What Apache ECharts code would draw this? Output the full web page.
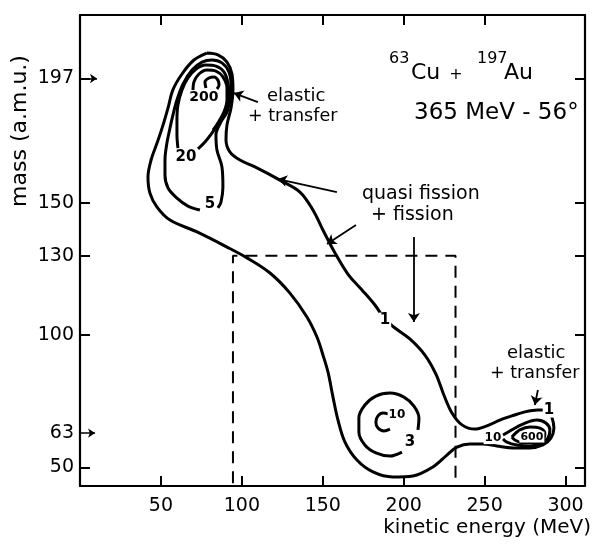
<!DOCTYPE html>
<html><head><meta charset="utf-8">
<script src="https://cdn.jsdelivr.net/npm/echarts@6/dist/echarts.min.js"></script>
<style>html,body{margin:0;padding:0;background:#fff}#c{width:594px;height:545px}</style>
</head><body><div id="c"></div>
<script>
// ---- axis ticks / labels ----
const xTickValues = [50, 100, 150, 200, 250, 300];
const xTopTickValues = [50, 100, 150, 200, 250];
const yLabelValues = [50, 63, 100, 130, 150, 197];
const yTickValues = [50, 100, 130, 150, 197];
const yArrowMarks = [[197, 10.5], [63, 9.3]]; // [mass, arrow length in MeV]

// ---- contour lines (kinetic energy MeV, mass amu) ----
const contour1 = [[78.4,206.6],[85.2,205.9],[90.8,203.2],[93.9,198.7],[94.5,192.7],[93.3,185.9],[90.8,179.4],[90.2,173.8],[92.7,169.2],[98.8,166.2],[109.3,163.2],[123.5,158.6],[135.9,154.1],[143.9,147.3],[150.7,139.0],[157.5,131.1],[165.5,123.1],[174.2,117.1],[182.2,111.4],[188.4,106.1],[194.6,102.7],[203.8,98.6],[213.1,92.5],[219.9,85.3],[224.8,77.4],[229.8,70.6],[236.0,66.1],[244.0,64.5],[251.4,65.7],[259.4,67.9],[266.8,69.5],[274.9,71.0],[282.9,71.7],[289.1,71.7],[291.5,69.1],[292.8,64.9],[290.9,61.1],[286.0,58.5],[278.0,57.4],[267.5,57.4],[257.6,58.1],[248.9,58.9],[240.9,58.9],[232.9,57.7],[226.7,54.7],[218.0,50.2],[205.7,46.8],[193.3,46.4],[181.0,48.3],[171.1,52.8],[163.7,59.6],[159.4,67.9],[156.3,76.6],[153.2,86.1],[150.1,92.5],[146.4,99.3],[140.2,106.9],[129.7,115.9],[117.4,123.5],[103.2,129.2],[90.8,133.3],[72.3,139.0],[55.6,143.5],[47.6,148.4],[43.2,153.7],[42.0,159.8],[43.9,166.2],[47.6,172.6],[51.3,179.4],[54.4,185.9],[57.4,192.7],[63.0,198.7],[70.4,204.0],[78.4,206.6]];
const contour5 = [[74.1,147.3],[66.7,148.8],[59.9,151.8],[54.4,155.6],[52.5,160.5],[52.5,166.2],[53.7,172.6],[55.6,178.3],[57.4,183.2],[59.9,188.9],[63.6,194.9],[69.2,200.2],[75.4,203.2],[81.5,204.0],[87.7,202.9],[92.0,199.5],[93.3,194.5],[92.7,188.9],[90.8,184.3],[87.1,180.6],[84.0,175.7],[84.6,170.0],[87.7,163.6],[88.3,156.0],[87.1,150.3],[85.2,148.1]];
const contour20 = [[60.5,170.7],[59.9,175.7],[59.9,181.3],[60.5,187.0],[63.0,192.7],[66.7,197.2],[71.7,200.6],[77.8,202.1],[84.0,201.7],[88.9,199.5],[91.4,195.3],[92.0,190.0],[90.2,185.1],[86.5,180.9],[81.5,176.4],[77.2,173.0],[72.9,170.4]];
const contour50 = [[69.8,191.9],[70.4,195.7],[73.5,198.7],[78.4,200.2],[84.0,199.8],[88.3,197.6],[90.8,193.4],[90.8,188.9],[88.9,184.3],[85.2,180.2],[82.2,177.5]];
const contour200 = [[77.8,193.4],[77.2,195.7],[79.7,197.2],[82.8,197.6],[85.2,196.4],[85.9,194.5],[84.6,193.0]];
const contour3 = [[198.9,55.8],[191.5,54.3],[182.8,55.5],[176.0,58.5],[172.3,63.4],[172.3,68.7],[176.0,73.6],[182.8,77.0],[191.5,78.1],[200.1,76.6],[206.3,73.2],[209.4,68.7],[208.8,64.2]];
const contour10mid = [[190.9,70.2],[187.2,70.6],[184.1,69.5],[182.8,67.2],[184.1,64.9],[187.8,63.8],[191.5,64.5]];
const contour10right = [[261.3,62.3],[265.6,63.8],[273.6,66.4],[282.3,67.9],[287.8,66.8],[290.3,64.2],[289.1,61.1],[285.4,59.3],[278.0,58.1],[269.9,58.5],[263.7,59.6],[261.3,60.8]];
const contour100right = [[266.8,61.5],[271.8,64.2],[278.0,65.3],[284.1,64.9],[287.2,63.0],[286.0,60.4],[281.0,59.3],[273.6,59.3],[268.7,60.4],[266.8,61.5]];

// contour level labels: [energy, mass, text]
const contourLabels = [[188.4,105.7,'1'],[289.7,71.7,'1'],[80.3,149.6,'5'],[65.5,167.3,'20'],[76.6,190.0,'200'],[203.8,59.6,'3'],[195.8,69.8,'10'],[255.1,61.1,'10'],[279.2,61.5,'600']];

// dashed selection window
const selectionBox = [[94.5,44],[94.5,130],[232,130],[232,44]];

// annotation arrows: [tail, tip]
const arrows = [
  [[109.9,188.1],[95.1,191.5]],
  [[158.7,154.1],[122.3,159.0]],
  [[170.5,141.6],[152.6,134.5]],
  [[206.3,137.1],[206.3,105.0]],
  [[282.9,79.3],[281.0,73.6]]
];

const FONT = '"DejaVu Sans", sans-serif';
const labelSize = {'1': 15, '5': 15, '20': 15, '200': 14, '3': 15, '10': 12, '600': 11};
const chart = echarts.init(document.getElementById('c'), null, {renderer: 'canvas'});

function contour(data) {
  return {type: 'line', data: data, smooth: 0.35, symbol: 'none', silent: true, z: 3,
    lineStyle: {color: '#000', width: 3}, animation: false};
}
const axisCommon = {
  type: 'value', splitLine: {show: false},
  axisLine: {show: true, onZero: false, lineStyle: {color: '#000', width: 2.2}},
  axisTick: {inside: true, length: 10, lineStyle: {color: '#000', width: 2}}
};

function txt(text, x, y, size, align, extra) {
  return Object.assign({type: 'text', x: x, y: y, z: 100,
    style: {text: text, font: size + 'px ' + FONT, fill: '#000', align: align || 'left', verticalAlign: 'middle'}}, extra || {});
}

const option = {
  backgroundColor: '#fff',
  animation: false,
  grid: {left: 80, right: 9, top: 15, bottom: 59},
  xAxis: [
    Object.assign({}, axisCommon, {min: 0, max: 312, position: 'bottom',
      axisTick: Object.assign({}, axisCommon.axisTick, {customValues: xTickValues}),
      axisLabel: {customValues: xTickValues, color: '#000', fontFamily: FONT, fontSize: 19, margin: 11}}),
    Object.assign({}, axisCommon, {min: 0, max: 312, position: 'top',
      axisTick: Object.assign({}, axisCommon.axisTick, {customValues: xTopTickValues}),
      axisLabel: {show: false}})
  ],
  yAxis: [
    Object.assign({}, axisCommon, {min: 43, max: 221, position: 'left',
      axisTick: Object.assign({}, axisCommon.axisTick, {customValues: yTickValues}),
      axisLabel: {customValues: yLabelValues, color: '#000', fontFamily: FONT, fontSize: 19, margin: 6}}),
    Object.assign({}, axisCommon, {min: 43, max: 221, position: 'right',
      axisTick: Object.assign({}, axisCommon.axisTick, {customValues: yTickValues}),
      axisLabel: {show: false}})
  ],
  series: [
    contour(contour1), contour(contour5), contour(contour20), contour(contour50),
    contour(contour200), contour(contour3), contour(contour10mid),
    contour(contour10right), contour(contour100right),
    {type: 'line', data: selectionBox, symbol: 'none', silent: true, z: 2,
      lineStyle: {color: '#000', width: 2, type: [12, 8]}},
    {type: 'lines', coordinateSystem: 'cartesian2d', silent: true, z: 4,
      symbol: ['none', 'arrow'], symbolSize: 9,
      lineStyle: {color: '#000', width: 1.8, opacity: 1},
      data: arrows.map(a => ({coords: a}))},
    {type: 'lines', coordinateSystem: 'cartesian2d', silent: true, z: 4,
      symbol: ['none', 'arrow'], symbolSize: 7,
      lineStyle: {color: '#000', width: 1.6, opacity: 1},
      data: yArrowMarks.map(m => ({coords: [[0, m[0]], [m[1], m[0]]]}))},
    {type: 'scatter', symbolSize: 0, silent: true, z: 10,
      itemStyle: {opacity: 1, color: '#000'},
      data: contourLabels.map(l => ({value: [l[0], l[1]], name: l[2],
        label: {fontSize: labelSize[l[2]] || 14}})),
      label: {show: true, position: 'inside', formatter: p => p.name,
        color: '#000', opacity: 1, fontFamily: FONT, fontWeight: 'bold',
        backgroundColor: '#fff', padding: [0, 1]}}
  ],
  graphic: [
    txt('elastic', 267, 96, 18),
    txt('+ transfer', 248, 116, 17.5),
    txt('quasi fission', 362, 194, 19),
    txt('+ fission', 371, 215, 19),
    txt('elastic', 507, 353, 18),
    txt('+ transfer', 490, 373, 17.5),
    txt('63', 389, 59, 16),
    txt('Cu', 411, 73, 22),
    txt('+', 456, 75, 16, 'center'),
    txt('197', 477, 59, 16),
    txt('Au', 504, 73, 22),
    txt('365 MeV - 56°', 414, 113, 23),
    txt('kinetic energy (MeV)', 591, 528, 20, 'right'),
    txt('mass (a.m.u.)', 20, 131, 22, 'center', {rotation: Math.PI / 2})
  ]
};
chart.setOption(option);
</script>
</body></html>
